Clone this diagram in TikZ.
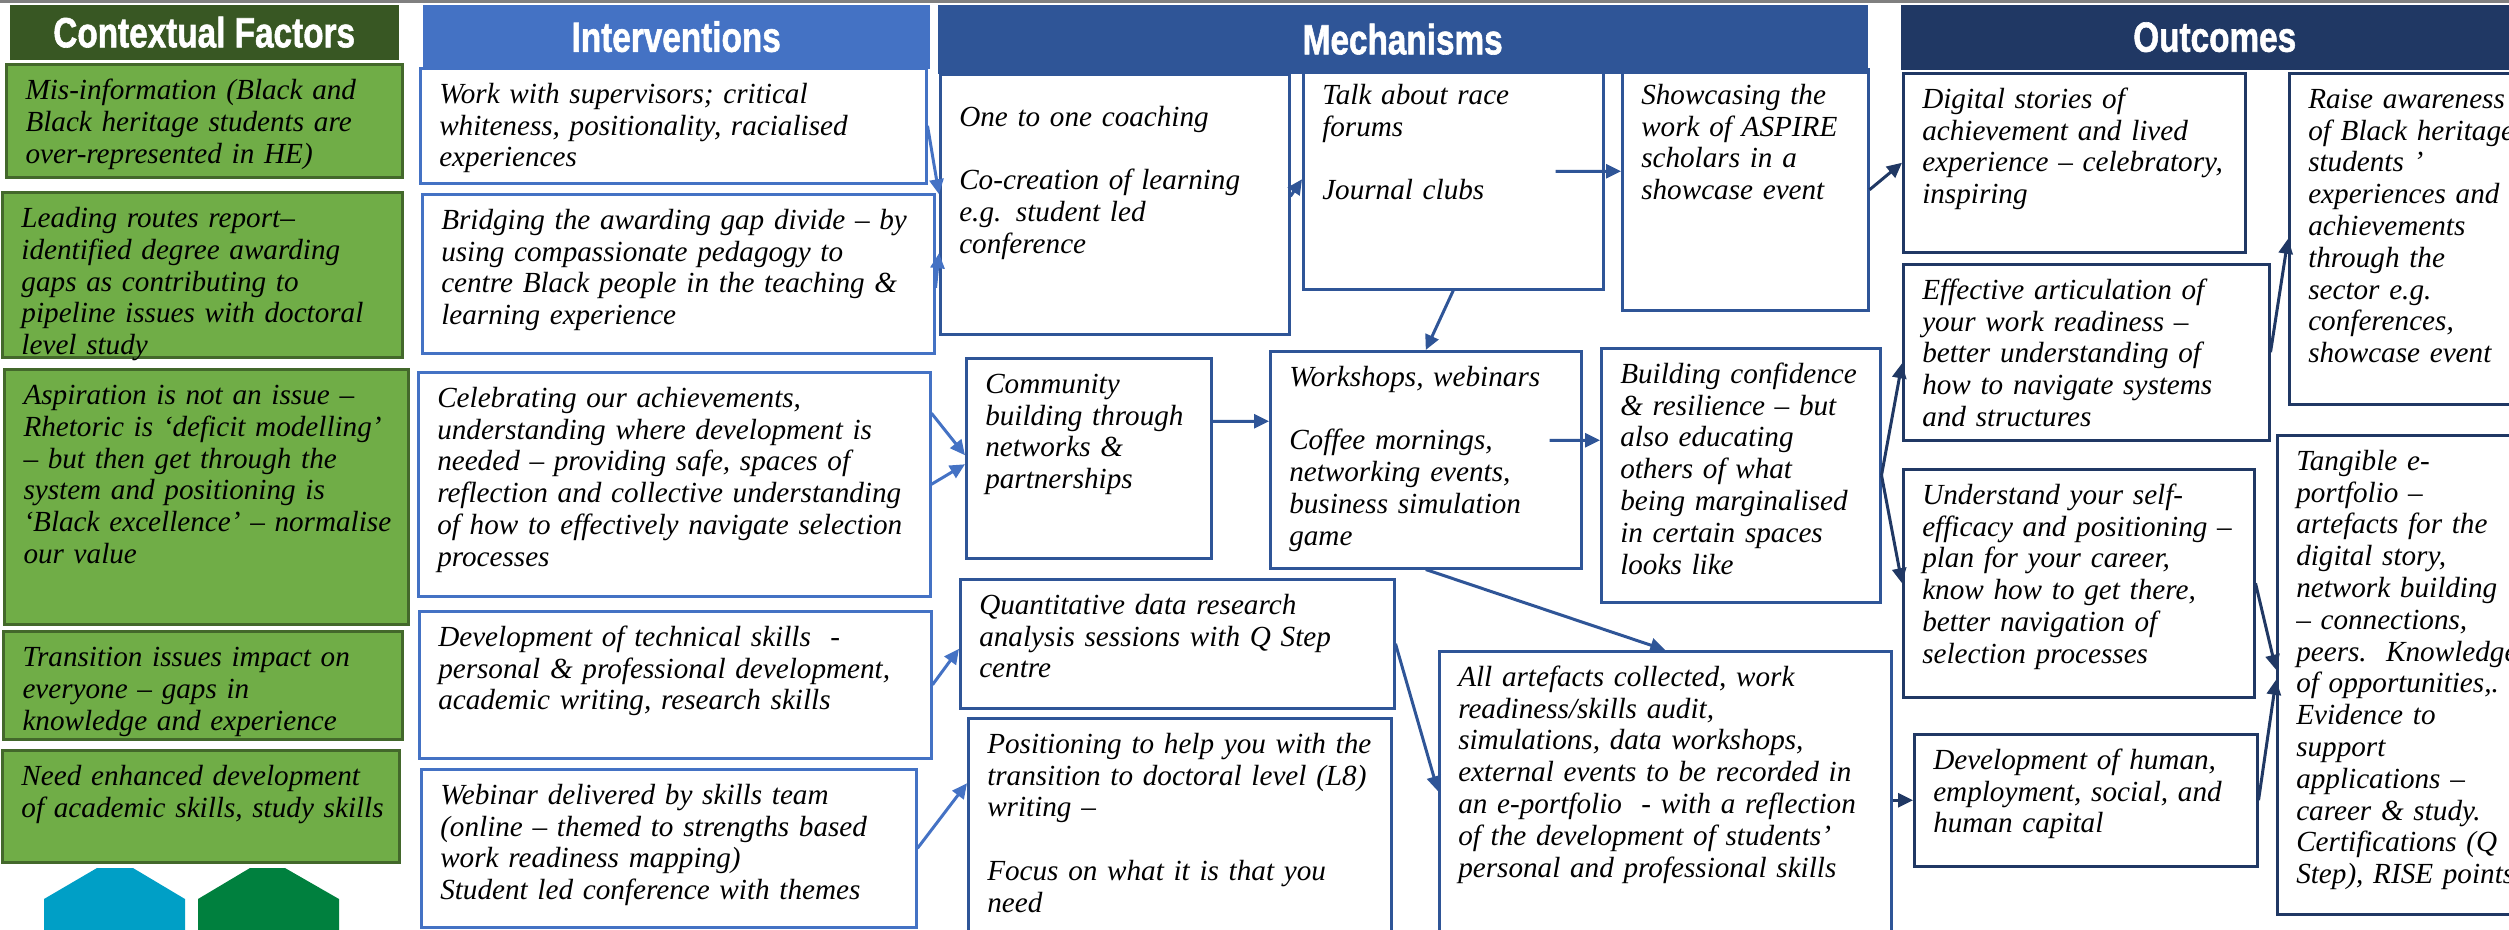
\documentclass[tikz,border=0pt]{standalone}
\usepackage{fontspec}
\setmainfont{Liberation Serif}
\newfontfamily\headfamily{Liberation Sans}[BoldFeatures={FakeBold=1.5}]
\usepackage{graphicx}
\usetikzlibrary{arrows.meta}
\definecolor{cfdark}{HTML}{385723}
\definecolor{cffill}{HTML}{70AD47}
\definecolor{cfline}{HTML}{43682B}
\definecolor{ilight}{HTML}{4472C4}
\definecolor{mblue}{HTML}{2F5597}
\definecolor{onavy}{HTML}{203864}
\definecolor{hexblue}{HTML}{009FC6}
\definecolor{hexgreen}{HTML}{00803E}
\newcommand{\bodyfont}{\fontsize{8.3}{9.05}\selectfont\itshape}
\newcommand{\headfont}{\headfamily\bfseries\fontsize{12}{14}\selectfont}
\newcommand{\rows}[1]{\begin{tabular}[t]{@{}l@{}}#1\end{tabular}}

\begin{document}
\begin{tikzpicture}[
        cell/.style={rectangle, anchor=north west, inner xsep=0.19cm, inner ysep=0.12cm, text height=0.23cm, font=\bodyfont},
        cfbox/.style={cell, draw=cfline, fill=cffill, line width=0.03cm},
        ibox/.style={cell, draw=ilight, fill=white, line width=0.025cm},
        mbox/.style={cell, draw=mblue, fill=white, line width=0.025cm},
        obox/.style={cell, draw=onavy, fill=white, line width=0.025cm},
        head/.style={rectangle, anchor=north west, inner sep=0, text=white, font=\headfont},
        arrow/.style={-{Triangle[length=0.15cm,width=0.14cm]}, line width=0.03cm}]

    \useasboundingbox (0,0) rectangle (25.09,-9.29);
    \clip (0,0) rectangle (25.09,-9.29);

    % contextual factors
    \node[cfbox, text width=3.58cm, text depth=0.66cm] (cf1) at (0.05,-0.63) {\rows{Mis-information (Black and\\Black heritage students are\\over-represented in HE)}};
    \node[cfbox, text width=3.62cm, text depth=1.18cm] (cf2) at (0.01,-1.91) {\rows{Leading routes report–\\identified degree awarding\\gaps as contributing to\\pipeline issues with doctoral\\level study}};
    \node[cfbox, text width=3.66cm, text depth=2.08cm] (cf3) at (0.03,-3.68) {\rows{Aspiration is not an issue –\\Rhetoric is ‘deficit modelling’\\– but then get through the\\system and positioning is\\‘Black excellence’ – normalise\\our value}};
    \node[cfbox, text width=3.61cm, text depth=0.61cm] (cf4) at (0.02,-6.30) {\rows{Transition issues impact on\\everyone – gaps in\\knowledge and experience}};
    \node[cfbox, text width=3.59cm, text depth=0.65cm] (cf5) at (0.01,-7.49) {\rows{Need enhanced development\\of academic skills, study skills}};

    % interventions
    \node[ibox, text width=4.68cm, text depth=0.68cm] (I1) at (4.19,-0.67) {\rows{Work with supervisors; critical\\whiteness, positionality, racialised\\experiences}};
    \node[ibox, text width=4.74cm, text depth=1.12cm] (I2) at (4.21,-1.93) {\rows{Bridging the awarding gap divide – by\\using compassionate pedagogy to\\centre Black people in the teaching \&\\learning experience}};
    \node[ibox, text width=4.74cm, text depth=1.77cm] (I3) at (4.17,-3.71) {\rows{Celebrating our achievements,\\understanding where development is\\needed – providing safe, spaces of\\reflection and collective understanding\\of how to effectively navigate selection\\processes}};
    \node[ibox, text width=4.74cm, text depth=1.00cm] (I4) at (4.18,-6.10) {\rows{Development of technical skills\ \ -\\personal \& professional development,\\academic writing, research skills}};
    \node[ibox, text width=4.57cm, text depth=1.11cm] (I5) at (4.20,-7.68) {\rows{Webinar delivered by skills team\\(online – themed to strengths based\\work readiness mapping)\\Student led conference with themes}};

    % mechanisms
    \node[mbox, text width=3.11cm, text height=0.40cm, text depth=1.96cm] (M1) at (9.39,-0.73) {\rows{One to one coaching\\ \\Co-creation of learning\\e.g. student led\\conference}};
    \node[mbox, text width=2.62cm, text depth=1.73cm] (M2) at (13.02,-0.68) {\rows{Talk about race\\forums\\ \\Journal clubs}};
    \node[mbox, text width=2.08cm, text depth=1.94cm] (M3) at (16.21,-0.68) {\rows{Showcasing the\\work of ASPIRE\\scholars in a\\showcase event}};
    \node[mbox, text width=2.07cm, text depth=1.53cm] (M4) at (9.65,-3.57) {\rows{Community\\building through\\networks \&\\partnerships}};
    \node[mbox, text width=2.73cm, text depth=1.70cm] (M5) at (12.69,-3.50) {\rows{Workshops, webinars\\ \\Coffee mornings,\\networking events,\\business simulation\\game}};
    \node[mbox, text width=2.41cm, text depth=2.07cm] (M6) at (16.00,-3.47) {\rows{Building confidence\\\& resilience – but\\also educating\\others of what\\being marginalised\\in certain spaces\\looks like}};
    \node[mbox, text width=3.96cm, text depth=0.82cm] (M7) at (9.59,-5.78) {\rows{Quantitative data research\\analysis sessions with Q Step\\centre}};
    \node[mbox, text width=3.85cm, text depth=2.13cm] (M8) at (9.67,-7.17) {\rows{Positioning to help you with the\\transition to doctoral level (L8)\\writing –\\ \\Focus on what it is that you\\need}};
    \node[mbox, text width=4.14cm, text depth=3.03cm] (M9) at (14.38,-6.50) {\rows{All artefacts collected, work\\readiness/skills audit,\\simulations, data workshops,\\external events to be recorded in\\an e-portfolio\ \ - with a reflection\\of the development of students’\\personal and professional skills}};

    % outcomes
    \node[obox, text width=3.04cm, text depth=1.32cm] (O1) at (19.02,-0.72) {\rows{Digital stories of\\achievement and lived\\experience – celebratory,\\inspiring}};
    \node[obox, text width=3.28cm, text depth=1.29cm] (O2) at (19.02,-2.63) {\rows{Effective articulation of\\your work readiness –\\better understanding of\\how to navigate systems\\and structures}};
    \node[obox, text width=2.22cm, text depth=2.84cm] (O3) at (22.88,-0.72) {\rows{Raise awareness\\of Black heritage\\students ’\\experiences and\\achievements\\through the\\sector e.g.\\conferences,\\showcase event}};
    \node[obox, text width=3.13cm, text depth=1.81cm] (O4) at (19.02,-4.68) {\rows{Understand your self-\\efficacy and positioning –\\plan for your career,\\know how to get there,\\better navigation of\\selection processes}};
    \node[obox, text width=3.05cm, text depth=0.85cm] (O5) at (19.13,-7.33) {\rows{Development of human,\\employment, social, and\\human capital}};
    \node[obox, text width=2.22cm, text depth=4.32cm] (O6) at (22.76,-4.34) {\rows{Tangible e-\\portfolio –\\artefacts for the\\digital story,\\network building\\– connections,\\peers.\ \ Knowledge\\of opportunities,.\\Evidence to\\support\\applications –\\career \& study.\\Certifications (Q\\Step), RISE points}};

    % column heads
    \node[head, fill=cfdark, minimum width=3.89cm, minimum height=0.55cm] (cfhead) at (0.09,-0.04) {\scalebox{0.79}[1]{Contextual Factors}};
    \node[head, fill=ilight, minimum width=5.07cm, minimum height=0.64cm] (ihead) at (4.22,-0.04) {\scalebox{0.79}[1]{Interventions}};
    \node[head, fill=mblue, minimum width=9.30cm, minimum height=0.69cm] (mhead) at (9.37,-0.04) {\scalebox{0.79}[1]{Mechanisms}};
    \node[head, fill=onavy, minimum width=6.28cm, minimum height=0.65cm] (ohead) at (19.00,-0.04) {\scalebox{0.79}[1]{Outcomes}};
    \draw[gray, line width=0.03cm] (0,-0.01) -- (25.09,-0.01);

    % logo shapes
    \fill[hexblue] (0.44,-9.40) -- (0.44,-8.99) -- (0.97,-8.68) -- (1.33,-8.68) -- (1.85,-8.99) -- (1.85,-9.40) -- cycle;
    \fill[hexgreen] (1.98,-9.40) -- (1.98,-8.99) -- (2.50,-8.68) -- (2.85,-8.68) -- (3.39,-8.99) -- (3.39,-9.40) -- cycle;

    % interventions to mechanisms
    \draw[arrow, ilight] (I1.east) -- ([yshift=0.10cm]M1.west);
    \draw[arrow, ilight] ([yshift=-0.14cm]I2.east) -- ([yshift=-0.49cm]M1.west);
    \draw[arrow, ilight] ([yshift=0.71cm]I3.east) -- ([yshift=0.03cm]M4.west);
    \draw[arrow, ilight] (I3.east) -- ([yshift=-0.06cm]M4.west);
    \draw[arrow, ilight] (I4.east) -- ([yshift=-0.05cm]M7.west);
    \draw[arrow, ilight] (I5.east) -- ([yshift=0.65cm]M8.west);

    % within mechanisms
    \draw[arrow, mblue] ([yshift=0.08cm]M1.east) -- (M2.west);
    \draw[arrow, mblue] ([shift={(-0.49cm,0.08cm)}]M2.east) -- ([yshift=0.185cm]M3.west);
    \draw[arrow, mblue] (M2.south) -- (M5.north);
    \draw[arrow, mblue] ([yshift=0.37cm]M4.east) -- ([yshift=0.385cm]M5.west);
    \draw[arrow, mblue] ([shift={(-0.33cm,0.195cm)}]M5.east) -- ([yshift=0.35cm]M6.west);
    \draw[arrow, mblue] (M5.south) -- (M9.north);
    \draw[arrow, mblue] (M7.east) -- ([yshift=0.35cm]M9.west);

    % mechanisms to outcomes
    \draw[arrow, onavy] (M3.east) -- (O1.west);
    \draw[arrow, onavy] (M6.east) -- ([yshift=-0.11cm]O2.west);
    \draw[arrow, onavy] (M6.east) -- (O4.west);
    \draw[arrow, onavy] (M9.east |- O5.west) -- (O5.west);
    \draw[arrow, onavy] (O2.east) -- (O3.west);
    \draw[arrow, onavy] (O4.east) -- ([yshift=0.05cm]O6.west);
    \draw[arrow, onavy] (O5.east) -- ([yshift=-0.05cm]O6.west);

\end{tikzpicture}
\end{document}
